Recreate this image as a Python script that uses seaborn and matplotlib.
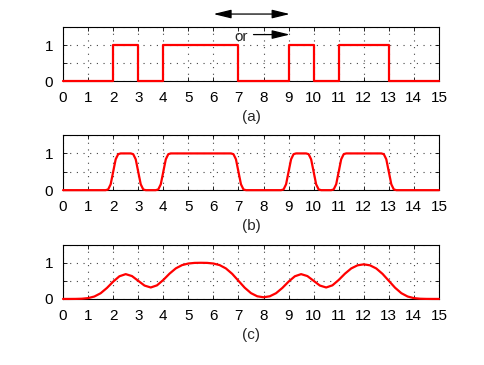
import matplotlib
matplotlib.use('Agg')
import matplotlib.pyplot as plt
import seaborn as sns

# (a) rectangular signal: level starting at each breakpoint
a_x = [0, 2, 3, 4, 7, 9, 10, 11, 13, 15]
a_y = [0, 1, 0, 1, 0, 1, 0, 1, 0, 0]

# (b) slightly smoothed version
b_x = [0, 1.7, 1.8, 1.9, 2.0, 2.1, 2.2, 2.3,
       2.7, 2.8, 2.9, 3.0, 3.1, 3.2, 3.3,
       3.7, 3.8, 3.9, 4.0, 4.1, 4.2, 4.3,
       6.7, 6.8, 6.9, 7.0, 7.1, 7.2, 7.3,
       8.7, 8.8, 8.9, 9.0, 9.1, 9.2, 9.3,
       9.7, 9.8, 9.9, 10.0, 10.1, 10.2, 10.3,
       10.7, 10.8, 10.9, 11.0, 11.1, 11.2, 11.3,
       12.7, 12.8, 12.9, 13.0, 13.1, 13.2, 13.3, 15]
b_y = [0, 0, 0.02, 0.16, 0.5, 0.84, 0.98, 1.0,
       1.0, 0.98, 0.84, 0.5, 0.16, 0.02, 0,
       0, 0.02, 0.16, 0.5, 0.84, 0.98, 1.0,
       1.0, 0.98, 0.84, 0.5, 0.16, 0.02, 0,
       0, 0.02, 0.16, 0.5, 0.84, 0.98, 1.0,
       1.0, 0.98, 0.84, 0.5, 0.16, 0.02, 0,
       0, 0.02, 0.16, 0.5, 0.84, 0.98, 1.0,
       1.0, 0.98, 0.84, 0.5, 0.16, 0.02, 0, 0]

# (c) strongly smoothed version, sampled every 0.25
c_x = [i * 0.25 for i in range(61)]
c_y = [0.000, 0.000, 0.001, 0.006, 0.023, 0.067, 0.157, 0.302,
       0.477, 0.625, 0.684, 0.631, 0.500, 0.369, 0.316, 0.375,
       0.523, 0.698, 0.843, 0.933, 0.977, 0.994, 0.997, 0.994,
       0.977, 0.933, 0.841, 0.692, 0.500, 0.309, 0.160, 0.073,
       0.046, 0.073, 0.158, 0.302, 0.477, 0.625, 0.684, 0.631,
       0.500, 0.369, 0.316, 0.375, 0.523, 0.697, 0.841, 0.927,
       0.954, 0.927, 0.840, 0.691, 0.500, 0.309, 0.159, 0.067,
       0.023, 0.006, 0.001, 0.000, 0.000]

labels = ['(a)', '(b)', '(c)']
xticks = list(range(16))

sns.set_style('ticks')
plt.rcParams['font.family'] = ['Liberation Sans', 'DejaVu Sans']
plt.rcParams['font.size'] = 11

fig = plt.figure(figsize=(4.85, 3.65), dpi=100)
boxes = [[0.130, 0.778, 0.775, 0.148],
         [0.130, 0.479, 0.775, 0.151],
         [0.130, 0.181, 0.775, 0.149]]
series = [(a_x, a_y, 'steps-post'), (b_x, b_y, 'default'), (c_x, c_y, 'default')]

for box, (xs, ys, ds), lab in zip(boxes, series, labels):
    ax = fig.add_axes(box)
    sns.lineplot(x=xs, y=ys, ax=ax, color='red', linewidth=1.6,
                 drawstyle=ds, estimator=None, clip_on=False, zorder=3)
    ax.set_xlim(0, 15)
    ax.set_ylim(0, 1.5)
    ax.set_xticks(xticks)
    ax.set_yticks([0, 0.5, 1, 1.5])
    ax.set_yticklabels(['0', '', '1', ''])
    ax.tick_params(direction='in', top=True, right=True, length=3, width=0.6,
                   pad=7, colors='black')
    ax.tick_params(axis='x', pad=7)
    ax.grid(True, linestyle=(0, (1, 5)), color='#444444', linewidth=0.8)
    for s in ax.spines.values():
        s.set_linewidth(0.8)
        s.set_color('black')
    ax.set_xlabel(lab, labelpad=4)

    if lab == '(a)':
        ax.annotate('', xy=(6, 1.86), xytext=(9.05, 1.86),
                    arrowprops=dict(arrowstyle='<|-|>,head_length=0.9,head_width=0.22',
                                    color='black', lw=0.9,
                                    mutation_scale=12, shrinkA=0, shrinkB=0),
                    annotation_clip=False)
        ax.text(7.1, 1.23, 'or', ha='center', va='center', fontsize=11)
        ax.annotate('', xy=(9.05, 1.29), xytext=(7.6, 1.29),
                    arrowprops=dict(arrowstyle='-|>,head_length=0.9,head_width=0.22',
                                    color='black', lw=0.9,
                                    mutation_scale=12, shrinkA=0, shrinkB=0))

fig.savefig('out.png', dpi=100)
